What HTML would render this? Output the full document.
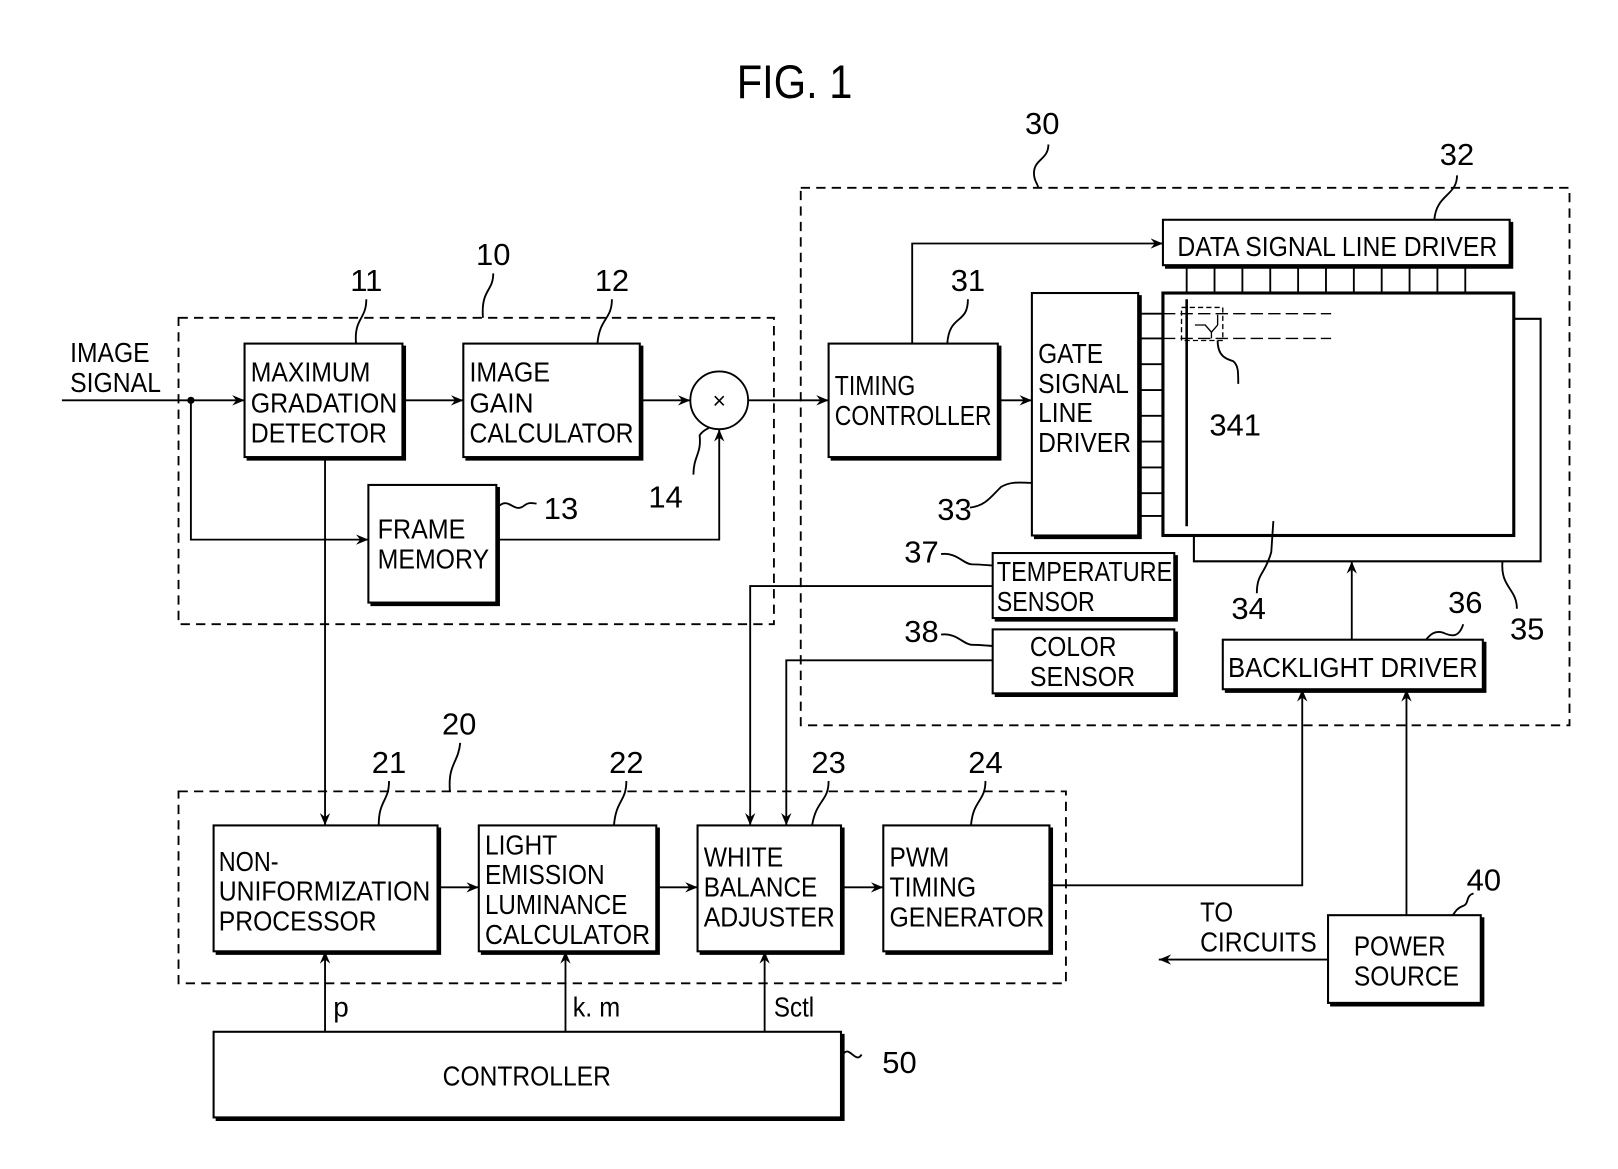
<!DOCTYPE html>
<html><head><meta charset="utf-8"><style>
html,body{margin:0;padding:0;background:#fff;}
svg{display:block;}
text{font-family:"Liberation Sans Narrow","Liberation Sans",sans-serif;fill:#000;}
</style></head><body>
<svg width="1618" height="1169" viewBox="0 0 1568 1133" preserveAspectRatio="none" xmlns="http://www.w3.org/2000/svg">
<defs>
<marker id="a" viewBox="0 0 12 10" refX="12" refY="5" markerWidth="12" markerHeight="10" markerUnits="userSpaceOnUse" orient="auto"><path d="M0,0 L12,5 L0,10 L4,5 Z" fill="#000"/></marker>
</defs>
<g fill="none" stroke="#000" stroke-width="1.8">
<rect x="173" y="308" width="577" height="297" stroke-dasharray="9,6"/>
<rect x="173" y="767" width="860" height="186" stroke-dasharray="9,6"/>
<rect x="776" y="182" width="745" height="521" stroke-dasharray="9,6"/>
<g stroke-width="2">
<rect x="237" y="333" width="153" height="110"/>
<rect x="449" y="333" width="171" height="110"/>
<rect x="357" y="470" width="124" height="114"/>
<rect x="207" y="800" width="217" height="122"/>
<rect x="464" y="800" width="172" height="122"/>
<rect x="676" y="800" width="139" height="122"/>
<rect x="856" y="800" width="161" height="122"/>
<rect x="207" y="1000" width="608" height="83"/>
<rect x="1287" y="887" width="148" height="85"/>
<rect x="803" y="333" width="164" height="110"/>
<rect x="1000" y="284" width="103" height="235"/>
<rect x="1127" y="213" width="336" height="44"/>
<polyline points="1467,309 1493,309 1493,544 1157,544 1157,519"/>
<rect x="1127" y="284" width="340" height="235" stroke-width="3"/>
<rect x="962" y="536" width="176" height="63"/>
<rect x="962" y="610" width="176" height="62"/>
<rect x="1185" y="620" width="252" height="48"/>
</g>
<g stroke-width="3">
<polyline points="392,335 392,445 239,445"/><polyline points="622,335 622,445 451,445"/>
<polyline points="483,472 483,586 359,586"/><polyline points="426,802 426,924 209,924"/>
<polyline points="638,802 638,924 466,924"/><polyline points="817,802 817,924 678,924"/>
<polyline points="1019,802 1019,924 858,924"/><polyline points="817,1002 817,1085 209,1085"/>
<polyline points="1437,889 1437,974 1289,974"/><polyline points="969,335 969,445 805,445"/>
<polyline points="1105,286 1105,521 1002,521"/><polyline points="1465,215 1465,259 1129,259"/>
<polyline points="1140,538 1140,601 964,601"/><polyline points="1140,612 1140,674 964,674"/>
<polyline points="1439,622 1439,670 1187,670"/>
</g>
<line x1="60" y1="388" x2="237" y2="388" marker-end="url(#a)"/>
<polyline points="185,388 185,523 357,523" marker-end="url(#a)"/>
<line x1="390" y1="388" x2="449" y2="388" marker-end="url(#a)"/>
<line x1="620" y1="388" x2="669" y2="388" marker-end="url(#a)"/>
<circle cx="697" cy="388" r="28"/>
<line x1="725" y1="388" x2="803" y2="388" marker-end="url(#a)"/>
<polyline points="481,523 697,523 697,416" marker-end="url(#a)"/>
<line x1="315" y1="443" x2="315" y2="800" marker-end="url(#a)"/>
<line x1="424" y1="860" x2="464" y2="860" marker-end="url(#a)"/>
<line x1="636" y1="860" x2="676" y2="860" marker-end="url(#a)"/>
<line x1="815" y1="860" x2="856" y2="860" marker-end="url(#a)"/>
<polyline points="1017,858 1262,858 1262,668" marker-end="url(#a)"/>
<line x1="1363" y1="887" x2="1363" y2="668" marker-end="url(#a)"/>
<line x1="1287" y1="930" x2="1123" y2="930" marker-end="url(#a)"/>
<line x1="315" y1="1000" x2="315" y2="922" marker-end="url(#a)"/>
<line x1="548" y1="1000" x2="548" y2="922" marker-end="url(#a)"/>
<line x1="741" y1="1000" x2="741" y2="922" marker-end="url(#a)"/>
<polyline points="884,333 884,236 1127,236" marker-end="url(#a)"/>
<line x1="967" y1="388" x2="1000" y2="388" marker-end="url(#a)"/>
<line x1="1310" y1="620" x2="1310" y2="544" marker-end="url(#a)"/>
<polyline points="962,568 727,568 727,800" marker-end="url(#a)"/>
<polyline points="962,640 762,640 762,800" marker-end="url(#a)"/>
<path d="M1150,257V284M1177,257V284M1204,257V284M1231,257V284M1258,257V284M1285,257V284M1312,257V284M1339,257V284M1366,257V284M1393,257V284M1420,257V284"/>
<path d="M1103,304H1127M1103,328H1127M1103,353H1127M1103,378H1127M1103,403H1127M1103,428H1127M1103,453H1127M1103,478H1127M1103,500H1127"/>
<line x1="1150" y1="290" x2="1150" y2="510" stroke-width="2.5"/>
<path d="M1127,304H1290M1127,328H1290" stroke-dasharray="12,5" stroke-width="1.3"/>
<rect x="1145" y="298" width="40" height="32" stroke-dasharray="5,3" stroke-width="1.3"/>
<path d="M1158,315 L1168,315 L1174,322 L1180,315 M1174,322 V328 M1180,305 V315" stroke-width="1.3"/>
<path d="M1016,140 c0,15 -14,14 -14,28 c0,8 4,10 4,14"/>
<path d="M1412,170 c0,20 -20,18 -22,43"/>
<path d="M478,265 c0,18 -12,15 -10,43"/>
<path d="M355,290 c0,20 -12,18 -10,43"/>
<path d="M593,290 c0,20 -12,18 -14,43"/>
<path d="M484,490 c10,-8 14,8 24,0 c5,-4 8,-2 12,-2"/>
<path d="M672,460 c0,-18 8,-20 6,-38 c4,-6 8,-6 10,-8"/>
<path d="M446,720 c-2,20 -12,20 -10,47"/>
<path d="M377,757 c0,20 -10,18 -10,43"/>
<path d="M607,757 c0,20 -10,18 -12,43"/>
<path d="M803,757 c0,20 -12,18 -16,43"/>
<path d="M955,757 c0,20 -12,18 -14,43"/>
<path d="M938,290 c0,25 -18,14 -20,43"/>
<path d="M940,492 c15,-2 20,-10 30,-20 c10,-6 20,-4 30,-4"/>
<path d="M912,537 c15,-2 22,10 30,10 c10,0 14,1 20,1"/>
<path d="M912,615 c15,-2 22,10 30,10 c10,0 14,1 20,1"/>
<path d="M1180,330 c0,15 8,18 15,20 c5,4 5,10 5,22"/>
<path d="M1218,575 c0,-20 8,-18 14,-40 l2,-30"/>
<path d="M1470,590 c0,-20 -16,-20 -14,-46"/>
<path d="M1418,605 c-5,16 -15,10 -20,8 c-8,-2 -12,2 -16,7"/>
<path d="M1428,866 c-8,2 -4,10 -10,12 c-6,2 -8,6 -10,9"/>
<path d="M817,1022 c6,-10 12,10 18,0"/>
</g>
<text x="770" y="95" font-size="46" text-anchor="middle" font-family="Liberation Sans" textLength="112" lengthAdjust="spacingAndGlyphs">FIG. 1</text>
<g font-size="30">
<text x="1010" y="130" text-anchor="middle">30</text>
<text x="1412" y="160" text-anchor="middle">32</text>
<text x="478" y="257" text-anchor="middle">10</text>
<text x="355" y="282" text-anchor="middle">11</text>
<text x="593" y="282" text-anchor="middle">12</text>
<text x="938" y="282" text-anchor="middle">31</text>
<text x="527" y="503">13</text>
<text x="645" y="492" text-anchor="middle">14</text>
<text x="925" y="504" text-anchor="middle">33</text>
<text x="893" y="545" text-anchor="middle">37</text>
<text x="893" y="622" text-anchor="middle">38</text>
<text x="1197" y="422" text-anchor="middle">341</text>
<text x="1210" y="600" text-anchor="middle">34</text>
<text x="1480" y="620" text-anchor="middle">35</text>
<text x="1420" y="594" text-anchor="middle">36</text>
<text x="445" y="712" text-anchor="middle">20</text>
<text x="377" y="749" text-anchor="middle">21</text>
<text x="607" y="749" text-anchor="middle">22</text>
<text x="803" y="749" text-anchor="middle">23</text>
<text x="955" y="749" text-anchor="middle">24</text>
<text x="1438" y="863" text-anchor="middle">40</text>
<text x="855" y="1040">50</text>
</g>
<g font-size="27">
<text x="68" y="351" textLength="77" lengthAdjust="spacingAndGlyphs">IMAGE</text><text x="68" y="380" textLength="88" lengthAdjust="spacingAndGlyphs">SIGNAL</text>
<text x="243" y="370" textLength="116" lengthAdjust="spacingAndGlyphs">MAXIMUM</text><text x="243" y="400" textLength="142" lengthAdjust="spacingAndGlyphs">GRADATION</text><text x="243" y="429" textLength="132" lengthAdjust="spacingAndGlyphs">DETECTOR</text>
<text x="455" y="370" textLength="78" lengthAdjust="spacingAndGlyphs">IMAGE</text><text x="455" y="400" textLength="62" lengthAdjust="spacingAndGlyphs">GAIN</text><text x="455" y="429" textLength="159" lengthAdjust="spacingAndGlyphs">CALCULATOR</text>
<text x="366" y="522" textLength="85" lengthAdjust="spacingAndGlyphs">FRAME</text><text x="366" y="551" textLength="108" lengthAdjust="spacingAndGlyphs">MEMORY</text>
<text x="809" y="383" textLength="78" lengthAdjust="spacingAndGlyphs">TIMING</text><text x="809" y="412" textLength="152" lengthAdjust="spacingAndGlyphs">CONTROLLER</text>
<text x="1006" y="352" textLength="63" lengthAdjust="spacingAndGlyphs">GATE</text><text x="1006" y="381" textLength="88" lengthAdjust="spacingAndGlyphs">SIGNAL</text><text x="1006" y="409" textLength="53" lengthAdjust="spacingAndGlyphs">LINE</text><text x="1006" y="438" textLength="90" lengthAdjust="spacingAndGlyphs">DRIVER</text>
<text x="1141" y="248" textLength="310" lengthAdjust="spacingAndGlyphs">DATA  SIGNAL  LINE  DRIVER</text>
<text x="966" y="563" textLength="170" lengthAdjust="spacingAndGlyphs">TEMPERATURE</text><text x="966" y="592" textLength="95" lengthAdjust="spacingAndGlyphs">SENSOR</text>
<text x="998" y="636" textLength="84" lengthAdjust="spacingAndGlyphs">COLOR</text><text x="998" y="665" textLength="102" lengthAdjust="spacingAndGlyphs">SENSOR</text>
<text x="1190" y="656" textLength="242" lengthAdjust="spacingAndGlyphs">BACKLIGHT DRIVER</text>
<text x="212" y="844" textLength="58" lengthAdjust="spacingAndGlyphs">NON-</text><text x="212" y="873" textLength="205" lengthAdjust="spacingAndGlyphs">UNIFORMIZATION</text><text x="212" y="902" textLength="153" lengthAdjust="spacingAndGlyphs">PROCESSOR</text>
<text x="470" y="828" textLength="70" lengthAdjust="spacingAndGlyphs">LIGHT</text><text x="470" y="857" textLength="116" lengthAdjust="spacingAndGlyphs">EMISSION</text><text x="470" y="886" textLength="138" lengthAdjust="spacingAndGlyphs">LUMINANCE</text><text x="470" y="915" textLength="160" lengthAdjust="spacingAndGlyphs">CALCULATOR</text>
<text x="682" y="840" textLength="77" lengthAdjust="spacingAndGlyphs">WHITE</text><text x="682" y="869" textLength="110" lengthAdjust="spacingAndGlyphs">BALANCE</text><text x="682" y="898" textLength="127" lengthAdjust="spacingAndGlyphs">ADJUSTER</text>
<text x="862" y="840" textLength="58" lengthAdjust="spacingAndGlyphs">PWM</text><text x="862" y="869" textLength="84" lengthAdjust="spacingAndGlyphs">TIMING</text><text x="862" y="898" textLength="150" lengthAdjust="spacingAndGlyphs">GENERATOR</text>
<text x="429" y="1052" textLength="163" lengthAdjust="spacingAndGlyphs">CONTROLLER</text>
<text x="1163" y="893" textLength="32" lengthAdjust="spacingAndGlyphs">TO</text><text x="1163" y="922" textLength="113" lengthAdjust="spacingAndGlyphs">CIRCUITS</text>
<text x="1312" y="926" textLength="89" lengthAdjust="spacingAndGlyphs">POWER</text><text x="1312" y="955" textLength="102" lengthAdjust="spacingAndGlyphs">SOURCE</text>
<text x="323" y="985">p</text><text x="555" y="985" textLength="46" lengthAdjust="spacingAndGlyphs">k. m</text><text x="750" y="985" textLength="39" lengthAdjust="spacingAndGlyphs">Sctl</text>
</g>
<text x="697" y="396" font-size="22" text-anchor="middle">×</text>
<circle cx="185" cy="388" r="3.5" fill="#000"/>
</svg>
</body></html>
